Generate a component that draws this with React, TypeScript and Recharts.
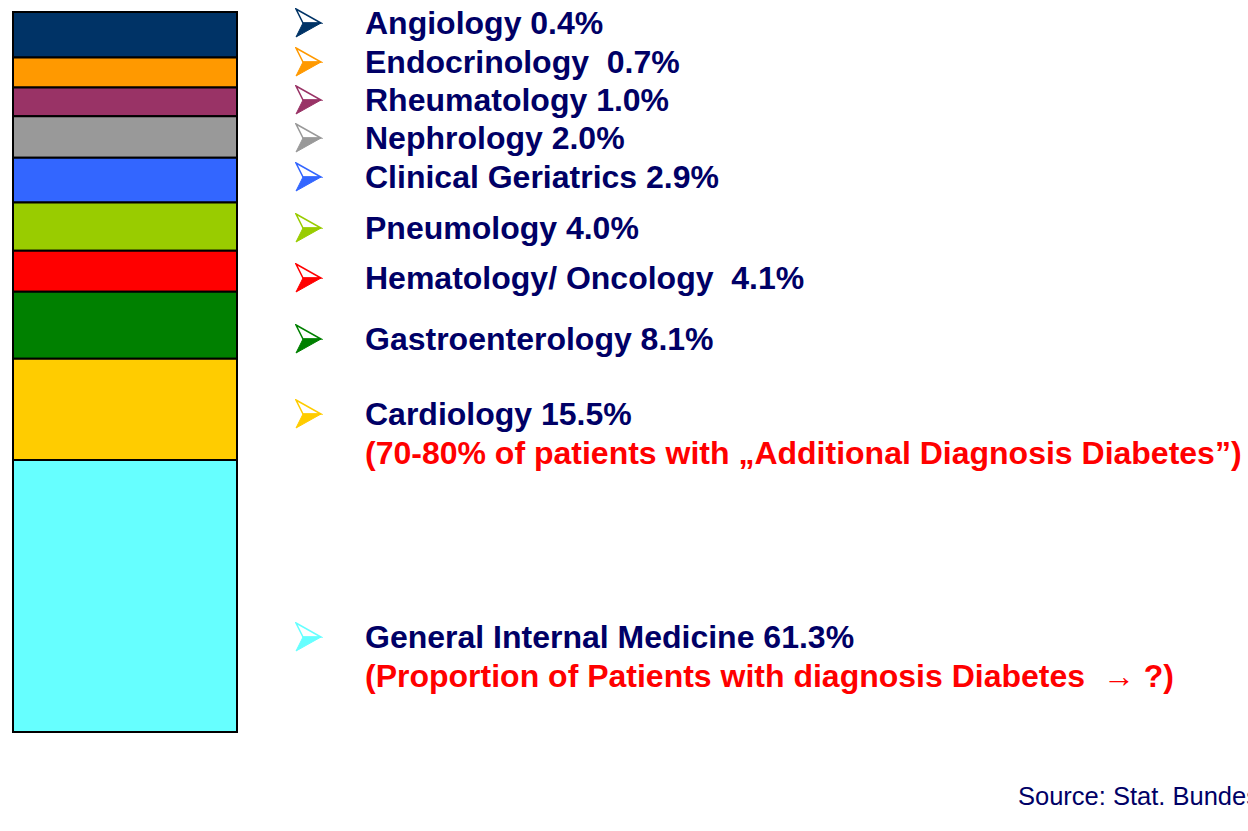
import { BarChart, Bar, XAxis, YAxis } from 'recharts';

const departments = [
  'Angiology',
  'Endocrinology',
  'Rheumatology',
  'Nephrology',
  'Clinical Geriatrics',
  'Pneumology',
  'Hematology/ Oncology',
  'Gastroenterology',
  'Cardiology',
  'General Internal Medicine',
];

// share of cases per department, %
const shares = [0.4, 0.7, 1.0, 2.0, 2.9, 4.0, 4.1, 8.1, 15.5, 61.3];

const shareText = ['0.4%', ' 0.7%', '1.0%', '2.0%', '2.9%', '4.0%', ' 4.1%', '8.1%', '15.5%', '61.3%'];

const notes = [
  '', '', '', '', '', '', '', '',
  '(70-80% of patients with \u201eAdditional Diagnosis Diabetes\u201d)',
  '(Proportion of Patients with diagnosis Diabetes  \u2192 ?)',
];

const colors = [
  '#003366', '#ff9900', '#993366', '#999999', '#3366ff',
  '#99cc00', '#ff0000', '#008000', '#ffcc00', '#66ffff',
];

// vertical centre of each text row on the slide
const rowCenter = [23, 62, 100, 138, 177, 228, 278, 339, 414, 637];

const keys = departments.map((_, i) => `d${i}`);
const chartData = [
  keys.reduce((row, k, i) => ({ ...row, [k]: shares[i] }), { name: 'Departments' } as Record<string, any>),
];

const FONT = '"Liberation Sans", Arial, Helvetica, sans-serif';
const NAVY = '#000066';

function Arrow({ color }: { color: string }) {
  return (
    <svg width={28} height={30} style={{ position: 'absolute', left: 0, top: -1 }}>
      <polygon points="1,1 26,15 8,15" fill="#fff" stroke={color} strokeWidth={1.5} strokeLinejoin="miter" />
      <polygon points="8,15 26,15 1,29" fill={color} stroke={color} strokeWidth={1} />
    </svg>
  );
}

export default function App() {
  return (
    <div
      style={{
        position: 'absolute',
        left: 0,
        top: 0,
        width: 1248,
        height: 831,
        overflow: 'hidden',
        background: '#fff',
        fontFamily: FONT,
      }}
    >
      <BarChart
        width={250}
        height={831}
        data={chartData}
        margin={{ top: 12, right: 13, left: 13, bottom: 99 }}
        barCategoryGap={0}
      >
        <XAxis dataKey="name" type="category" hide />
        <YAxis type="number" scale="sqrt" domain={[0, 100]} reversed hide />
        {keys.map((k, i) => (
          <Bar
            key={k}
            dataKey={k}
            stackId="dept"
            fill={colors[i]}
            stroke="#000"
            strokeWidth={2}
            isAnimationActive={false}
          />
        ))}
      </BarChart>

      {departments.map((dep, i) => (
        <div key={dep} style={{ position: 'absolute', left: 295, top: rowCenter[i] - 14 }}>
          <Arrow color={colors[i]} />
          <div
            style={{
              position: 'absolute',
              left: 70,
              top: -5,
              whiteSpace: 'pre',
              fontWeight: 'bold',
              fontSize: 32,
              lineHeight: '39px',
              color: NAVY,
            }}
          >
            {`${dep} ${shareText[i]}`}
            {notes[i] && <div style={{ color: '#ff0000' }}>{notes[i]}</div>}
          </div>
        </div>
      ))}

      <div
        style={{
          position: 'absolute',
          left: 1018,
          top: 782,
          fontSize: 25.5,
          color: NAVY,
          whiteSpace: 'pre',
        }}
      >
        Source: Stat. Bundesamt
      </div>
    </div>
  );
}
